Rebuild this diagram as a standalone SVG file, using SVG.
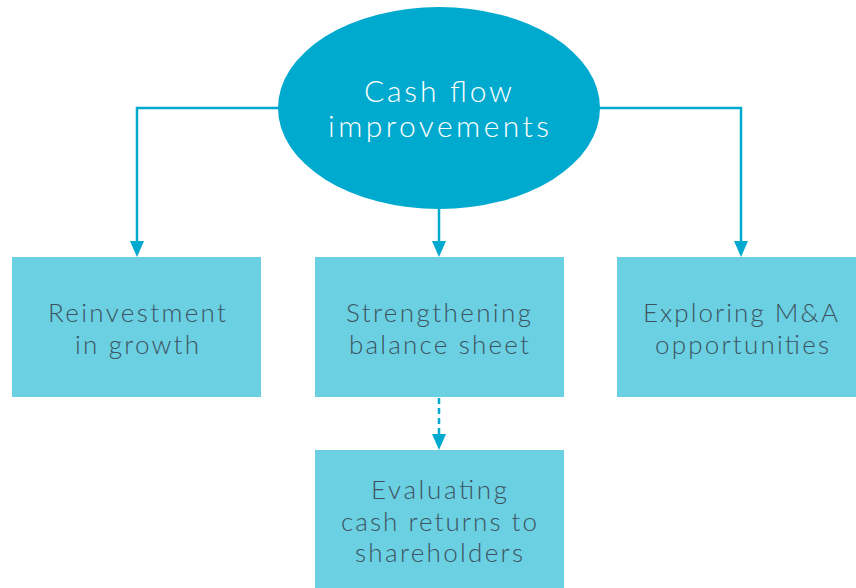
<svg xmlns="http://www.w3.org/2000/svg" width="856" height="588" viewBox="0 0 856 588">
<defs>
<style>
.box{fill:#6AD0E2}
.t{font-family:Lato,"Open Sans","Liberation Sans",sans-serif;font-weight:300;font-size:26px;fill:#3D5361;text-anchor:middle}
.w{font-family:Lato,"Open Sans","Liberation Sans",sans-serif;font-weight:300;font-size:30px;fill:#FFFFFF;text-anchor:middle}
.c{fill:none;stroke:#00A9CE;stroke-width:2.5}
.a{fill:#00A9CE}
</style>
</defs>
<rect width="856" height="588" fill="#FFFFFF"/>
<g id="connectors">
<path class="c" d="M280,108 H137 V242"/>
<path class="c" d="M598,108 H741 V242"/>
<path class="c" d="M439,209 V242"/>
<path class="c" d="M439,398 V435" stroke-dasharray="6,4"/>
<path class="a" d="M130,241 H144 L137,257 Z"/>
<path class="a" d="M734,241 H748 L741,257 Z"/>
<path class="a" d="M432,241 H446 L439,257 Z"/>
<path class="a" d="M432,434 H446 L439,450 Z"/>
</g>
<g id="root">
<ellipse cx="439" cy="108" rx="161" ry="101" fill="#00A9CE"/>
<text class="w" x="438" y="102" textLength="148" lengthAdjust="spacing">Cash flow</text>
<text class="w" x="438.5" y="137" textLength="221" lengthAdjust="spacing">improvements</text>
</g>
<g id="reinvestment">
<rect class="box" x="12" y="257" width="249" height="140"/>
<text class="t" x="137" y="322" textLength="178" lengthAdjust="spacing">Reinvestment</text>
<text class="t" x="137" y="354" textLength="124" lengthAdjust="spacing">in growth</text>
</g>
<g id="balance">
<rect class="box" x="315" y="257" width="249" height="140"/>
<text class="t" x="438.5" y="322" textLength="185" lengthAdjust="spacing">Strengthening</text>
<text class="t" x="439" y="354" textLength="180" lengthAdjust="spacing">balance sheet</text>
</g>
<g id="mna">
<rect class="box" x="617" y="257" width="249" height="140"/>
<text class="t" x="740.5" y="322" textLength="195" lengthAdjust="spacing">Exploring M&amp;A</text>
<text class="t" x="742" y="354" textLength="174" lengthAdjust="spacing">opportunities</text>
</g>
<g id="returns">
<rect class="box" x="315" y="450" width="249" height="140"/>
<text class="t" x="439" y="499" textLength="136" lengthAdjust="spacing">Evaluating</text>
<text class="t" x="439" y="531" textLength="196" lengthAdjust="spacing">cash returns to</text>
<text class="t" x="439" y="562" textLength="168" lengthAdjust="spacing">shareholders</text>
</g>
</svg>
